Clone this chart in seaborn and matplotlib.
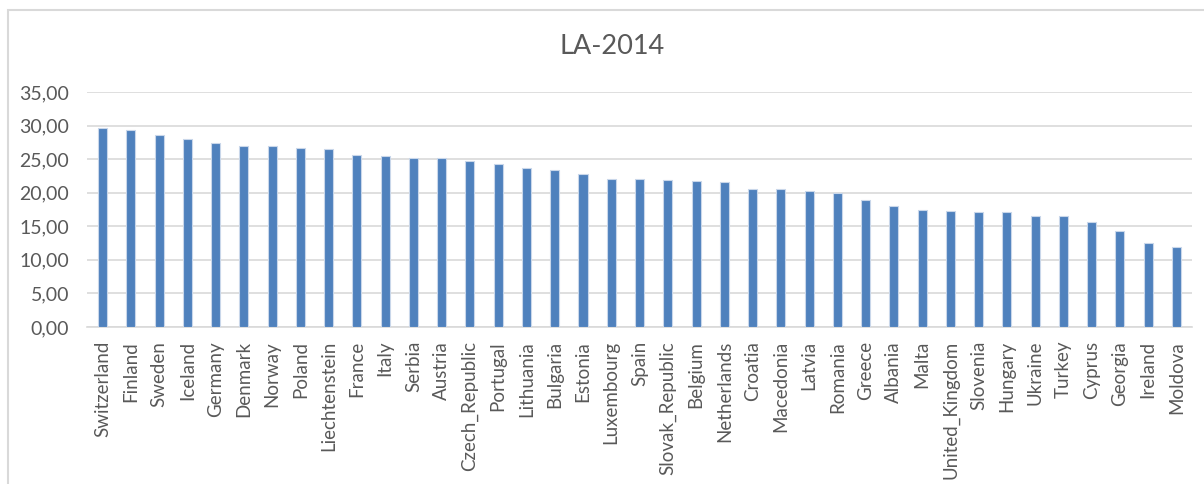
import numpy as np
import pandas as pd
import matplotlib
matplotlib.use("Agg")
from matplotlib import pyplot as plt, patches as mpatches
import seaborn as sns

countries = [
    "Switzerland", "Finland", "Sweden", "Iceland", "Germany", "Denmark", "Norway",
    "Poland", "Liechtenstein", "France", "Italy", "Serbia", "Austria", "Czech_Republic",
    "Portugal", "Lithuania", "Bulgaria", "Estonia", "Luxembourg", "Spain",
    "Slovak_Republic", "Belgium", "Netherlands", "Croatia", "Macedonia", "Latvia",
    "Romania", "Greece", "Albania", "Malta", "United_Kingdom", "Slovenia", "Hungary",
    "Ukraine", "Turkey", "Cyprus", "Georgia", "Ireland", "Moldova",
]
la_2014 = [
    29.6, 29.3, 28.65, 28.0, 27.4, 26.9, 26.9,
    26.7, 26.55, 25.6, 25.45, 25.1, 25.1, 24.65,
    24.25, 23.65, 23.45, 22.8, 22.0, 22.0,
    21.9, 21.75, 21.55, 20.6, 20.6, 20.25,
    19.9, 18.95, 17.95, 17.5, 17.35, 17.2, 17.2,
    16.55, 16.55, 15.6, 14.3, 12.5, 11.9,
]
y_ticks = [0, 5, 10, 15, 20, 25, 30, 35]
y_labels = [f"{v:.2f}".replace(".", ",") for v in y_ticks]

df = pd.DataFrame({"country": countries, "value": la_2014})

sns.set_style("white")
plt.rcParams["font.family"] = ["Lato", "DejaVu Sans"]

fig = plt.figure(figsize=(12.04, 4.84), dpi=100)
ax = fig.add_axes([87 / 1204, 1 - 327 / 484, (1192 - 87) / 1204, (327 - 92) / 484])

sns.barplot(data=df, x="country", y="value", color="#4F81BD", saturation=1,
            width=0.32, edgecolor="#C9D7EA", linewidth=0.8, ax=ax, zorder=3)

ax.set_ylim(0, 35)
ax.set_yticks(y_ticks)
ax.set_yticklabels(y_labels)
ax.yaxis.grid(True, color="#D9D9D9", linewidth=1.2, zorder=0)
ax.set_axisbelow(True)
for s in ["top", "right", "left"]:
    ax.spines[s].set_visible(False)
ax.spines["bottom"].set_color("#D9D9D9")
ax.spines["bottom"].set_linewidth(1.2)
ax.set_xlabel("")
ax.set_ylabel("")
ax.tick_params(axis="x", length=0, pad=10, labelsize=13.5, labelcolor="#595959", rotation=90)
ax.tick_params(axis="y", length=0, pad=13, labelsize=14, labelcolor="#595959")
ax.set_xlim(-0.55, len(countries) - 0.45)

# chart frame (only top and left visible in the crop)
fig.patches.append(mpatches.Rectangle((8 / 1204, -0.1), 1.2, 1 - 10 / 484 + 0.1,
                                      transform=fig.transFigure, fill=False,
                                      edgecolor="#D9D9D9", linewidth=1.5))
fig.text(612 / 1204, 1 - 47 / 484, "LA-2014", ha="center", va="center",
         fontsize=19.5, color="#595959")

fig.savefig("out.png", dpi=100)
